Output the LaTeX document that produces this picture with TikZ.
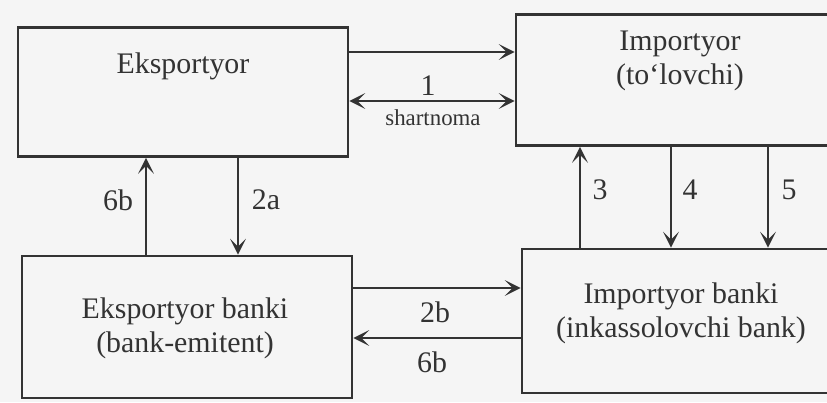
\documentclass[tikz,border=0pt]{standalone}
\usepackage{fontspec}
\setmainfont{Liberation Serif}
\usetikzlibrary{arrows.meta}
\usetikzlibrary{calc}
\definecolor{ink}{gray}{0.2}
\tikzset{
  party/.style={draw=ink, line width=1.6pt, minimum width=#1, inner sep=0pt},
  boxtext/.style={text=ink, align=center, font=\fontsize{17}{19.5}\selectfont},
  num/.style={text=ink, font=\fontsize{17}{20}\selectfont},
  flow/.style={draw=ink, line width=1.2pt},
}

\begin{document}
\begin{tikzpicture}[x=0.02cm, y=-0.02cm, >={Stealth[length=9pt, width=9pt, inset=4.5pt]}]

  \useasboundingbox[fill=black!4] (0,0) rectangle (827,402);

  % Parties
  \node[party=6.6cm, minimum height=2.58cm] (exp) at (183,92) {};
  \node[party=6.48cm, minimum height=2.62cm] (imp) at (678,80) {};
  \node[party=6.6cm, minimum height=2.84cm] (expb) at (187,327) {};
  \node[party=6.36cm, minimum height=2.88cm] (impb) at (681,321) {};

  \node[boxtext] (exptext) at (183,66) {Eksportyor};
  \node[boxtext] (imptext) at (680,61) {Importyor\\(to‘lovchi)};
  \node[boxtext] (expbtext) at (185,328) {Eksportyor banki\\(bank-emitent)};
  \node[boxtext] (impbtext) at (681,313) {Importyor banki\\(inkassolovchi bank)};

  % Contract between the parties
  \draw[flow, ->] (exp.east |- 0,52) -- (imp.west |- 0,52);
  \draw[flow, <->] (exp.east |- 0,101) -- (imp.west |- 0,101);
  \node[num] (one) at (428,86) {1};
  \node[text=ink, font=\fontsize{13}{15}\selectfont] (contract) at (433,118) {shartnoma};

  % Exporter and its bank
  \draw[flow, ->] (expb.north -| 146,0) -- (exp.south -| 146,0);
  \draw[flow, ->] (exp.south -| 238,0) -- (expb.north -| 238,0);
  \node[num] (sixbl) at (118,200) {6b};
  \node[num] (twoa) at (266,200) {2a};

  % Importer and its bank
  \draw[flow, ->] (impb.north -| 580,0) -- (imp.south -| 580,0);
  \draw[flow, ->] (imp.south -| 671,0) -- (impb.north -| 671,0);
  \draw[flow, ->] (imp.south -| 768,0) -- (impb.north -| 768,0);
  \node[num] (three) at (600,190) {3};
  \node[num] (four) at (690,190) {4};
  \node[num] (five) at (789,190) {5};

  % Between the banks
  \draw[flow, ->] (expb.east |- 0,288) -- (impb.west |- 0,288);
  \draw[flow, ->] (impb.west |- 0,338) -- (expb.east |- 0,338);
  \node[num] (twob) at (435,312) {2b};
  \node[num] (sixbb) at (432,362) {6b};

\end{tikzpicture}
\end{document}
